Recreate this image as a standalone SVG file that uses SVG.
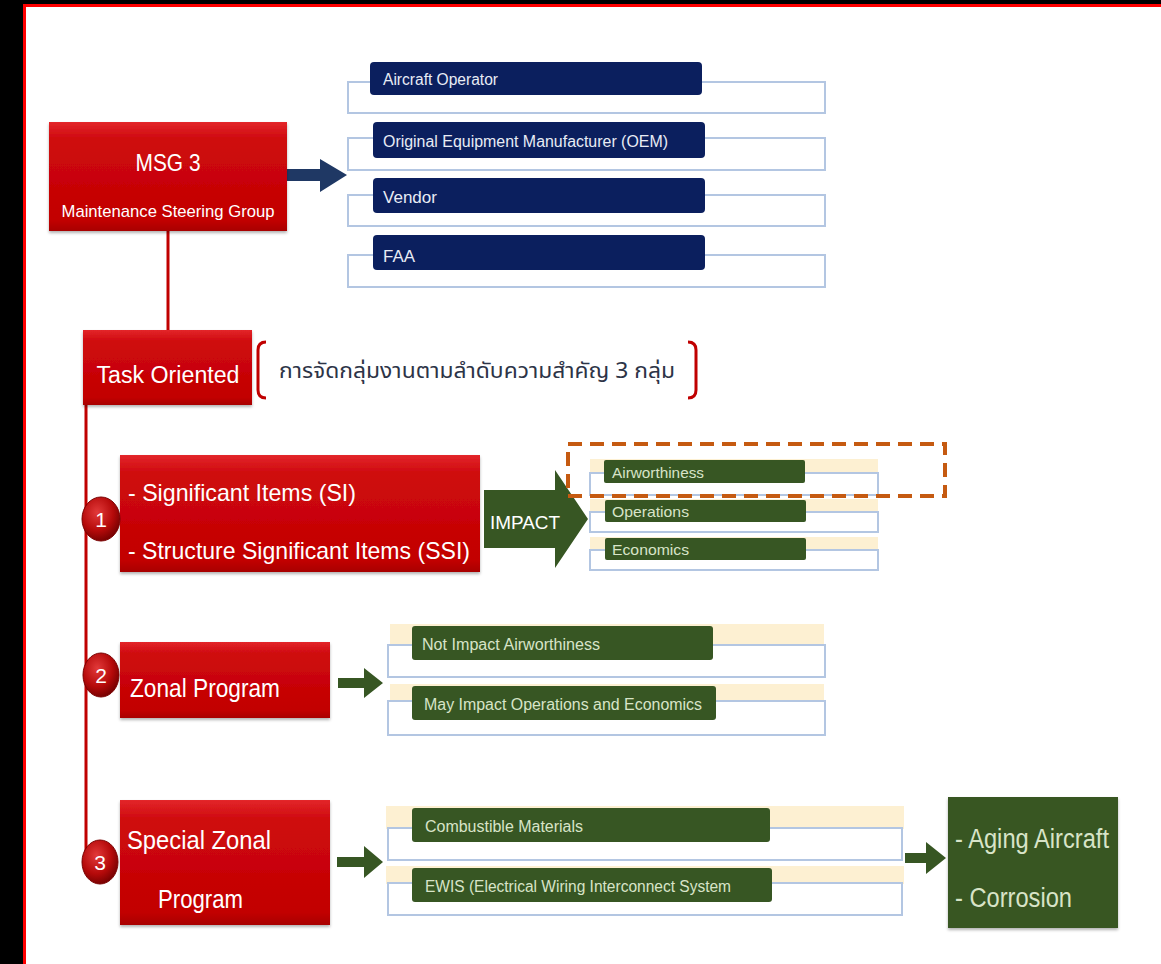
<svg xmlns="http://www.w3.org/2000/svg" width="1161" height="964" viewBox="0 0 1161 964">
<defs>
<linearGradient id="redg" x1="0" y1="0" x2="0" y2="1">
<stop offset="0" stop-color="#e3262a"/>
<stop offset="0.15" stop-color="#cf0a0f"/>
<stop offset="0.9" stop-color="#c20000"/>
<stop offset="1" stop-color="#a80000"/>
</linearGradient>
<radialGradient id="circg" cx="0.4" cy="0.35" r="0.7">
<stop offset="0" stop-color="#e23a3a"/>
<stop offset="0.6" stop-color="#b50a0a"/>
<stop offset="1" stop-color="#6e0000"/>
</radialGradient>
<filter id="sh" x="-5%" y="-5%" width="110%" height="115%">
<feDropShadow dx="0" dy="2" stdDeviation="1.5" flood-color="#000" flood-opacity="0.3"/>
</filter>
</defs>
<style>
.red{fill:url(#redg);filter:url(#sh)}
.wt{fill:#ffffff;font-family:"Liberation Sans",Arial,sans-serif}
.navy{fill:#0b1f5e}
.green{fill:#375623}
.gt{fill:#d8e4c8;font-family:"Liberation Sans",Arial,sans-serif}
.nt{fill:#e8ecf5;font-family:"Liberation Sans",Arial,sans-serif}
.outl{fill:#ffffff;stroke:#b3c6e2;stroke-width:2}
.beige{fill:#fdf0d2}
.circ{fill:url(#circg);stroke:#7a0000;stroke-width:1}
.num{fill:#ffffff;font-family:"Liberation Sans",Arial,sans-serif;font-size:21px;text-anchor:middle}
</style>
<rect x="0" y="0" width="1161" height="964" fill="#ffffff"/>
<rect x="0" y="0" width="1161" height="5" fill="#000"/>
<rect x="0" y="0" width="23" height="964" fill="#000"/>
<rect x="23" y="4" width="1138" height="3" fill="#ff0000"/>
<rect x="23" y="4" width="3" height="960" fill="#ff0000"/>

<g id="connectors">
<line x1="168" y1="231" x2="168" y2="330" stroke="#c00000" stroke-width="3"/>
<path d="M86,405 L86,858 Q86,866 92,868" fill="none" stroke="#c00000" stroke-width="3"/>
<polygon points="287,169 320,169 320,159 347,175 320,192 320,181 287,181" fill="#1f3864"/>
<polygon points="484,490 555,490 555,470 588,519 555,568 555,548 484,548" fill="#375623"/>
<polygon points="338,678 364,678 364,668 383,683 364,698 364,688 338,688" fill="#375623"/>
<polygon points="337,857 364,857 364,846 383,862 364,878 364,867 337,867" fill="#375623"/>
<polygon points="905,853 926,853 926,842 946,858 926,874 926,863 905,863" fill="#375623"/>
</g>

<g id="msg3">
<rect class="red" x="49" y="122" width="238" height="109"/>
<text class="wt" x="168" y="171" font-size="24" text-anchor="middle" textLength="65" lengthAdjust="spacingAndGlyphs">MSG 3</text>
<text class="wt" x="168" y="217" font-size="17" text-anchor="middle" textLength="213" lengthAdjust="spacingAndGlyphs">Maintenance Steering Group</text>
</g>

<g id="members">
<rect class="outl" x="348" y="82" width="477" height="31"/>
<rect class="navy" x="370" y="62" width="332" height="33" rx="4"/>
<text class="nt" x="383" y="85" font-size="16" textLength="115" lengthAdjust="spacingAndGlyphs">Aircraft Operator</text>
<rect class="outl" x="348" y="138" width="477" height="32"/>
<rect class="navy" x="373" y="122" width="332" height="36" rx="4"/>
<text class="nt" x="383" y="147" font-size="16" textLength="285" lengthAdjust="spacingAndGlyphs">Original Equipment  Manufacturer (OEM)</text>
<rect class="outl" x="348" y="195" width="477" height="31"/>
<rect class="navy" x="373" y="178" width="332" height="35" rx="4"/>
<text class="nt" x="383" y="203" font-size="16" textLength="54" lengthAdjust="spacingAndGlyphs">Vendor</text>
<rect class="outl" x="348" y="255" width="477" height="32"/>
<rect class="navy" x="373" y="235" width="332" height="35" rx="4"/>
<text class="nt" x="383" y="262" font-size="16" textLength="32" lengthAdjust="spacingAndGlyphs">FAA</text>
</g>

<g id="task">
<rect class="red" x="83" y="330" width="169" height="75"/>
<text class="wt" x="168" y="383" font-size="23" text-anchor="middle" textLength="143" lengthAdjust="spacingAndGlyphs">Task Oriented</text>
<path d="M266,342 Q258,342 258,350 L258,390 Q258,398 266,398" fill="none" stroke="#c00000" stroke-width="3"/>
<path d="M688,342 Q696,342 696,350 L696,390 Q696,398 688,398" fill="none" stroke="#c00000" stroke-width="3"/>
<text x="279" y="378" font-size="22" fill="#2d3447" font-family="'Noto Sans Thai','Noto Sans','DejaVu Sans',sans-serif" textLength="396" lengthAdjust="spacingAndGlyphs">การจัดกลุ่มงานตามลำดับความสำคัญ 3 กลุ่ม</text>
</g>

<g id="si">
<rect class="red" x="120" y="455" width="360" height="117"/>
<text class="wt" x="128" y="501" font-size="24" textLength="228" lengthAdjust="spacingAndGlyphs">- Significant Items (SI)</text>
<text class="wt" x="128" y="559" font-size="24" textLength="342" lengthAdjust="spacingAndGlyphs">- Structure Significant Items (SSI)</text>
<ellipse class="circ" cx="101" cy="519" rx="19" ry="22"/>
<text class="num" x="101" y="527">1</text>
<text class="wt" x="490" y="529" font-size="19" textLength="70" lengthAdjust="spacingAndGlyphs">IMPACT</text>
</g>

<g id="impact-list">
<rect class="beige" x="590" y="459" width="288" height="14"/>
<rect class="outl" x="590" y="473" width="288" height="22"/>
<rect class="green" x="604" y="460" width="201" height="23" rx="2"/>
<text class="gt" x="612" y="478" font-size="15" textLength="92" lengthAdjust="spacingAndGlyphs">Airworthiness</text>
<rect class="beige" x="590" y="499" width="288" height="13"/>
<rect class="outl" x="590" y="512" width="288" height="20"/>
<rect class="green" x="605" y="500" width="201" height="22" rx="2"/>
<text class="gt" x="612" y="517" font-size="15" textLength="77" lengthAdjust="spacingAndGlyphs">Operations</text>
<rect class="beige" x="590" y="537" width="288" height="13"/>
<rect class="outl" x="590" y="550" width="288" height="20"/>
<rect class="green" x="605" y="538" width="201" height="22" rx="2"/>
<text class="gt" x="612" y="555" font-size="15" textLength="77" lengthAdjust="spacingAndGlyphs">Economics</text>
</g>

<rect id="highlight" x="568" y="444" width="377" height="52" fill="none" stroke="#c55a11" stroke-width="4" stroke-dasharray="14,8"/>

<g id="zonal">
<rect class="red" x="120" y="642" width="210" height="76"/>
<text class="wt" x="130" y="697" font-size="26" textLength="150" lengthAdjust="spacingAndGlyphs">Zonal Program</text>
<ellipse class="circ" cx="101" cy="675" rx="18" ry="22"/>
<text class="num" x="101" y="683">2</text>
</g>

<g id="zonal-list">
<rect class="beige" x="390" y="624" width="434" height="22"/>
<rect class="outl" x="388" y="645" width="437" height="32"/>
<rect class="green" x="412" y="626" width="301" height="34" rx="3"/>
<text class="gt" x="422" y="650" font-size="16" textLength="178" lengthAdjust="spacingAndGlyphs">Not Impact Airworthiness</text>
<rect class="beige" x="390" y="684" width="434" height="18"/>
<rect class="outl" x="388" y="701" width="437" height="34"/>
<rect class="green" x="412" y="686" width="304" height="34" rx="3"/>
<text class="gt" x="424" y="710" font-size="16" textLength="278" lengthAdjust="spacingAndGlyphs">May Impact Operations and Economics</text>
</g>

<g id="special">
<rect class="red" x="120" y="800" width="210" height="125"/>
<text class="wt" x="127" y="849" font-size="26" textLength="144" lengthAdjust="spacingAndGlyphs">Special Zonal</text>
<text class="wt" x="158" y="908" font-size="26" textLength="85" lengthAdjust="spacingAndGlyphs">Program</text>
<ellipse class="circ" cx="100" cy="862" rx="18" ry="22"/>
<text class="num" x="100" y="870">3</text>
</g>

<g id="special-list">
<rect class="beige" x="386" y="806" width="518" height="23"/>
<rect class="outl" x="388" y="828" width="514" height="32"/>
<rect class="green" x="412" y="808" width="358" height="34" rx="3"/>
<text class="gt" x="425" y="832" font-size="16" textLength="158" lengthAdjust="spacingAndGlyphs">Combustible Materials</text>
<rect class="beige" x="386" y="866" width="518" height="18"/>
<rect class="outl" x="388" y="883" width="514" height="32"/>
<rect class="green" x="412" y="868" width="360" height="34" rx="3"/>
<text class="gt" x="425" y="892" font-size="16" textLength="306" lengthAdjust="spacingAndGlyphs">EWIS (Electrical Wiring Interconnect System</text>
</g>

<g id="aging">
<rect x="948" y="797" width="170" height="131" fill="#375623" filter="url(#sh)"/>
<text class="gt" x="955" y="848" font-size="27" textLength="154" lengthAdjust="spacingAndGlyphs">- Aging Aircraft</text>
<text class="gt" x="955" y="907" font-size="27" textLength="117" lengthAdjust="spacingAndGlyphs">- Corrosion</text>
</g>
</svg>
